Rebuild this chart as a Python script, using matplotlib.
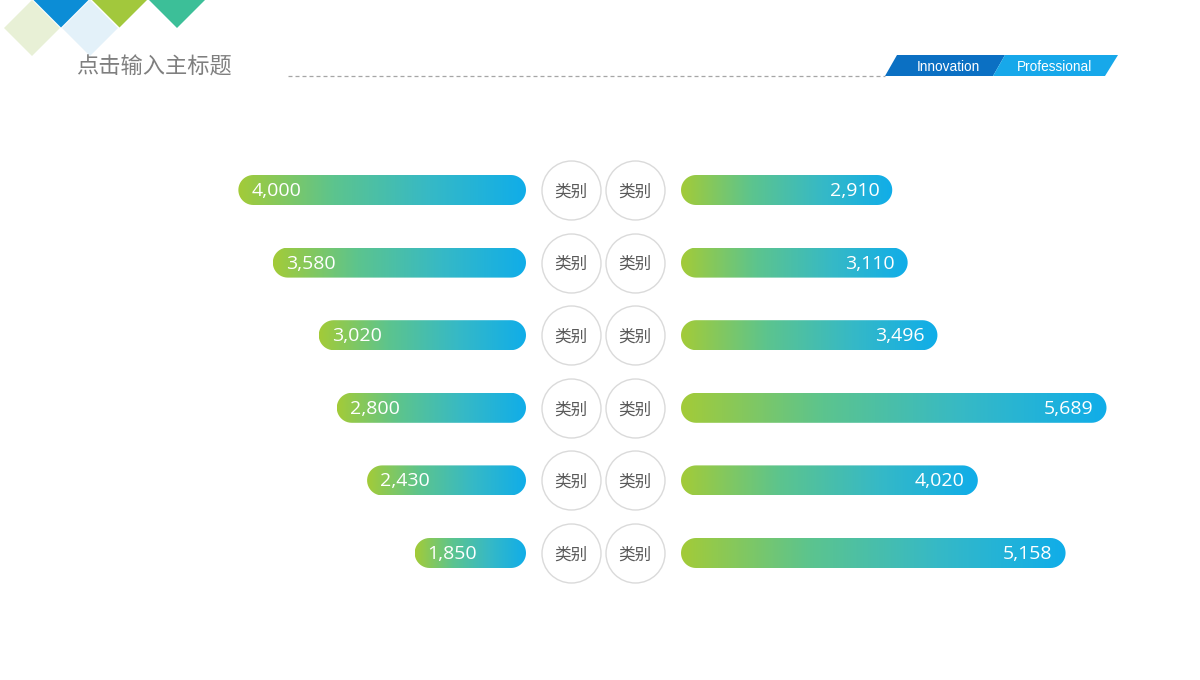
import numpy as np
import matplotlib
matplotlib.use("Agg")
import matplotlib.pyplot as plt
from matplotlib.patches import Polygon
from matplotlib.path import Path
from matplotlib.transforms import IdentityTransform
from matplotlib.colors import LinearSegmentedColormap

# ---------------- data ----------------
title = "点击输入主标题"
banner_labels = ["Innovation", "Professional"]
categories_left = ["类别", "类别", "类别", "类别", "类别", "类别"]
categories_right = ["类别", "类别", "类别", "类别", "类别", "类别"]
left_values = [4000, 3580, 3020, 2800, 2430, 1850]
right_values = [2910, 3110, 3496, 5689, 4020, 5158]

plt.rcParams['font.family'] = ['Noto Sans CJK SC', 'DejaVu Sans']

W, H = 1200, 680
fig = plt.figure(figsize=(W / 100, H / 100), dpi=100)
fig.patch.set_facecolor("white")

# ---------------- decoration layer (pixel coords) ----------------
deco = fig.add_axes([0, 0, 1, 1], zorder=0)
deco.set_xlim(0, W)
deco.set_ylim(H, 0)
deco.axis("off")


def diamond(cx, cy, r, color, z=1):
    deco.add_patch(Polygon([(cx - r, cy), (cx, cy - r), (cx + r, cy), (cx, cy + r)],
                           closed=True, facecolor=color, edgecolor="none", zorder=z))


diamond(32, 28, 28, "#e8f0d6", 1)
diamond(90, 28, 28, "#e3f1f9", 1)
diamond(61, 0, 27.5, "#0c8dd6", 2)
diamond(119.5, 0, 27.5, "#a2c83c", 2)
diamond(177, 0, 28, "#3cbf98", 2)

deco.text(76, 67, title, fontsize=16, color="#7f7f7f", ha="left", va="center",
          family=["Noto Sans CJK SC", "DejaVu Sans"])
deco.plot([288, 885], [75.5, 75.5], color="#a6a6a6", lw=0.9,
          linestyle=(0, (3.2, 2.4)))

deco.add_patch(Polygon([(885, 76), (897, 55), (1005, 55), (993, 76)],
                       closed=True, facecolor="#0b70c3", edgecolor="none"))
deco.add_patch(Polygon([(993, 76), (1005, 55), (1118, 55), (1105, 76)],
                       closed=True, facecolor="#17a8ea", edgecolor="none"))
deco.text(948, 67, banner_labels[0], fontsize=9.8, color="white", ha="center",
          va="center", family="Liberation Sans")
deco.text(1054, 67, banner_labels[1], fontsize=9.8, color="white", ha="center",
          va="center", family="Liberation Sans")

# ---------------- bar axes ----------------
row_top_px, row_bot_px = 190, 553
n = len(left_values)
row_step = (row_bot_px - row_top_px) / (n - 1)
y0_px = row_top_px - row_step / 2
y1_px = row_bot_px + row_step / 2
ax_bottom = (H - y1_px) / H
ax_height = (y1_px - y0_px) / H

bar_h_px = 30
bar_h = bar_h_px / row_step

cmap = LinearSegmentedColormap.from_list(
    "g2b", ["#a3cb38", "#5cc48e", "#36b9c6", "#10ade9"])
grad = cmap(np.linspace(0, 1, 256))[None, :, :3]


def make_bar_axes(px_left, px_right, xlim):
    ax = fig.add_axes([px_left / W, ax_bottom, (px_right - px_left) / W, ax_height],
                      zorder=2)
    ax.set_xlim(*xlim)
    ax.set_ylim(n - 0.5, -0.5)
    ax.axis("off")
    ax.patch.set_alpha(0)
    return ax


# value axes (origin at the inner edge of each bar block)
left_origin, left_scale = 492, 0.082      # px per unit
right_origin, right_scale = 170, 0.0771
lax = make_bar_axes(200, 526, (left_origin + (526 - 200) / left_scale, left_origin))
rax = make_bar_axes(681, 1140, (right_origin, right_origin + (1140 - 681) / right_scale))


def pill_path(xl, xr, yc, r, k=24):
    th_r = np.linspace(-np.pi / 2, np.pi / 2, k)
    th_l = np.linspace(np.pi / 2, 3 * np.pi / 2, k)
    right = np.column_stack([xr - r + r * np.cos(th_r), yc + r * np.sin(th_r)])
    left = np.column_stack([xl + r + r * np.cos(th_l), yc + r * np.sin(th_l)])
    verts = np.vstack([right, left, right[:1]])
    codes = [Path.MOVETO] + [Path.LINETO] * (len(verts) - 2) + [Path.CLOSEPOLY]
    return Path(verts, codes)


def gradient_bar(ax, i, v, origin, side):
    if side == "left":
        extent = (v, origin, i + bar_h / 2, i - bar_h / 2)
    else:
        extent = (origin, v, i + bar_h / 2, i - bar_h / 2)
    im = ax.imshow(grad, extent=extent, aspect="auto", interpolation="bilinear",
                   zorder=2)
    p0 = ax.transData.transform((origin, i))
    p1 = ax.transData.transform((v, i))
    xl, xr = min(p0[0], p1[0]), max(p0[0], p1[0])
    im.set_clip_path(pill_path(xl, xr, p0[1], bar_h_px / 2), IdentityTransform())
    lbl = f"{v:,}"
    if side == "left":
        ax.annotate(lbl, xy=(v, i), xytext=(13, -1), textcoords="offset pixels",
                    ha="left", va="center", color="white", fontsize=14,
                    family="Open Sans", zorder=3)
    else:
        ax.annotate(lbl, xy=(v, i), xytext=(-13, -1), textcoords="offset pixels",
                    ha="right", va="center", color="white", fontsize=14,
                    family="Open Sans", zorder=3)


for ax, vals, origin, side in ((lax, left_values, left_origin, "left"),
                               (rax, right_values, right_origin, "right")):
    xl = ax.get_xlim()
    for i, v in enumerate(vals):
        gradient_bar(ax, i, v, origin, side)
    ax.set_xlim(*xl)
    ax.set_ylim(n - 0.5, -0.5)

# ---------------- category circles ----------------
cax = fig.add_axes([528 / W, ax_bottom, 150 / W, ax_height], zorder=3)
cax.set_xlim(-75, 75)
cax.set_ylim(n - 0.5, -0.5)
cax.axis("off")
cax.patch.set_alpha(0)
ys = np.arange(n)
col_l, col_r = -32, 32
diam_pt = 59 * 0.72
for col, cats in ((col_l, categories_left), (col_r, categories_right)):
    cax.scatter(np.full(n, col), ys, s=diam_pt ** 2, facecolor="white",
                edgecolor="#dadada", linewidth=1.0, zorder=2, clip_on=False)
    for y, c in zip(ys, cats):
        cax.annotate(c, xy=(col, y), xytext=(0, -2), textcoords="offset pixels",
                     ha="center", va="center", fontsize=12,
                     color="#595959", zorder=3,
                     family=["Noto Sans CJK SC", "DejaVu Sans"])

fig.savefig("out.png", dpi=100, facecolor="white")
